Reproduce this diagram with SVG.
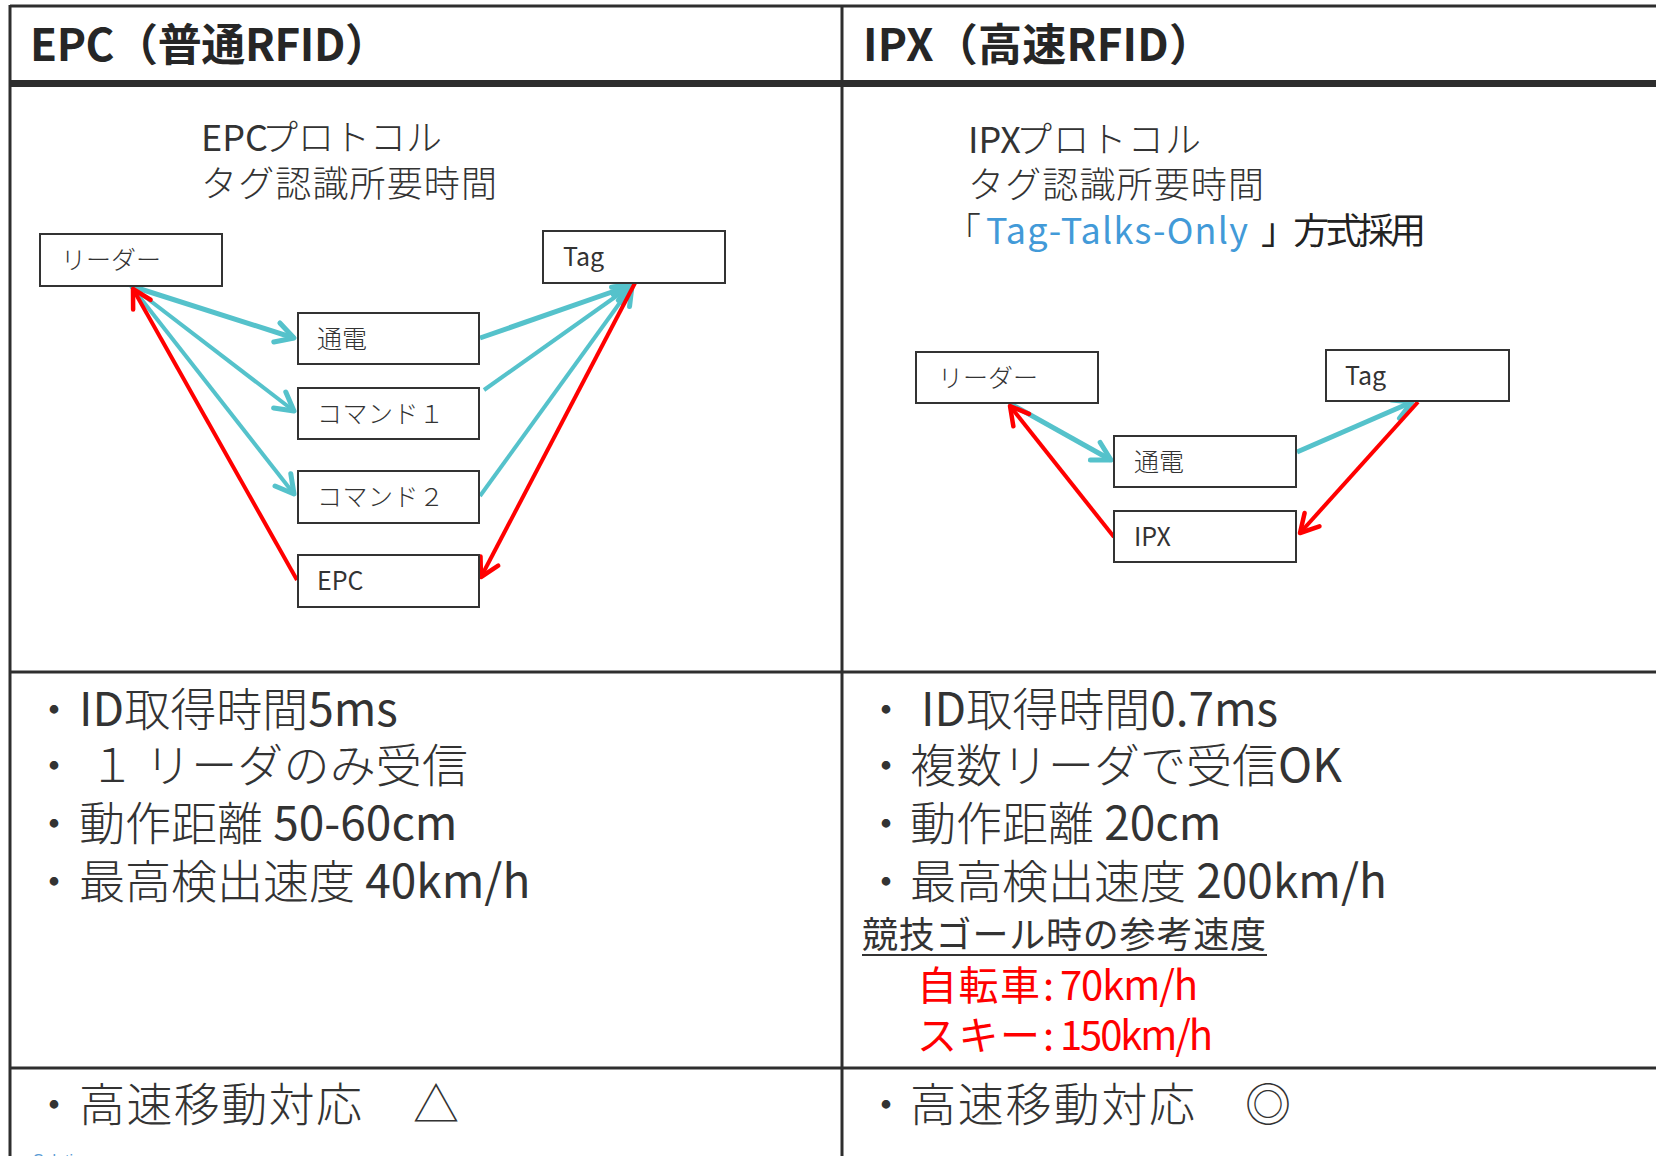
<svg xmlns="http://www.w3.org/2000/svg" width="1656" height="1156" viewBox="0 0 1656 1156">
<style>
.grid{stroke:#2e2e2e;stroke-width:3;fill:none}
.hdr{font-family:"Noto Sans CJK JP","Noto Sans",sans-serif;font-weight:bold;font-size:44px;fill:#262626}
.sub{font-family:"Noto Sans CJK JP","Noto Sans",sans-serif;font-size:36px;fill:#333;font-weight:300}
.box{fill:#fff;stroke:#333;stroke-width:2}
.lbl{font-family:"Noto Sans CJK JP","Noto Sans",sans-serif;font-size:25px;fill:#333;font-weight:300}
.body{font-family:"Noto Sans CJK JP","Noto Sans",sans-serif;font-size:46px;fill:#333;font-weight:300}
.lat{font-weight:400}
.mid{font-family:"Noto Sans CJK JP","Noto Sans",sans-serif;font-size:36px;fill:#333}
.red{font-family:"Noto Sans CJK JP","Noto Sans",sans-serif;font-size:40px;fill:#ff0000}
.cy{stroke:#55c2cb;fill:none;stroke-width:5}
.cy4{stroke:#55c2cb;fill:none;stroke-width:4}
.rd{stroke:#ff0000;fill:none;stroke-width:4}
</style>
<defs>
<marker id="mc" viewBox="-22 -14 26 28" markerWidth="26" markerHeight="28" refX="0" refY="0" orient="auto" markerUnits="userSpaceOnUse">
<path d="M-18,-10 L0,0 L-18,10" fill="none" stroke="#55c2cb" stroke-width="5" stroke-linecap="round" stroke-linejoin="round"/>
</marker>
<marker id="mr" viewBox="-22 -14 26 28" markerWidth="26" markerHeight="28" refX="0" refY="0" orient="auto" markerUnits="userSpaceOnUse">
<path d="M-18,-10 L0,0 L-18,10" fill="none" stroke="#ff0000" stroke-width="4.5" stroke-linecap="round" stroke-linejoin="round"/>
</marker>
</defs>
<rect width="1656" height="1156" fill="#fff"/>
<g id="table">
<line class="grid" x1="10" y1="6" x2="1656" y2="6"/>
<line class="grid" x1="10" y1="5" x2="10" y2="1156"/>
<line class="grid" x1="842" y1="5" x2="842" y2="1156"/>
<rect x="10" y="80" width="1646" height="7" fill="#2e2e2e"/>
<line class="grid" x1="10" y1="672" x2="1656" y2="672"/>
<line class="grid" x1="10" y1="1068" x2="1656" y2="1068"/>
</g>
<g id="headers">
<text class="hdr" x="30" y="61" textLength="359" lengthAdjust="spacing">EPC（普通RFID）</text>
<text class="hdr" x="863" y="61" textLength="350" lengthAdjust="spacing">IPX（高速RFID）</text>
</g>
<g id="epc-title">
<text class="sub" x="201" y="151"><tspan class="lat">EPC</tspan><tspan x="262" textLength="180" lengthAdjust="spacing">プロトコル</tspan></text>
<text class="sub" x="201" y="197" textLength="296" lengthAdjust="spacing">タグ認識所要時間</text>
</g>
<g id="ipx-title">
<text class="sub" x="968" y="153"><tspan class="lat">IPX</tspan><tspan x="1016" textLength="185" lengthAdjust="spacing">プロトコル</tspan></text>
<text class="sub" x="968" y="198" textLength="296" lengthAdjust="spacing">タグ認識所要時間</text>
<text class="sub" y="244"><tspan x="945">「</tspan><tspan x="986" class="lat" fill="#429ad8" textLength="262" lengthAdjust="spacing">Tag-Talks-Only</tspan><tspan x="1261" class="lat" fill="#222" textLength="165" lengthAdjust="spacing">」方式採用</tspan></text>
</g>
<g id="connectors">
<line class="cy" x1="131" y1="286" x2="294" y2="338" marker-end="url(#mc)"/>
<line class="cy4" x1="131" y1="286" x2="294" y2="411" marker-end="url(#mc)"/>
<line class="cy4" x1="131" y1="286" x2="294" y2="494" marker-end="url(#mc)"/>
<line class="cy" x1="480" y1="338" x2="632" y2="285" marker-end="url(#mc)"/>
<line class="cy4" x1="484" y1="390" x2="632" y2="285" marker-end="url(#mc)"/>
<line class="cy4" x1="480" y1="496" x2="632" y2="286" marker-end="url(#mc)"/>
<line class="rd" x1="635" y1="283" x2="481" y2="577" marker-end="url(#mr)"/>
<line class="rd" x1="297" y1="580" x2="133" y2="289" marker-end="url(#mr)"/>
<line class="cy" x1="1009" y1="403" x2="1111" y2="460" marker-end="url(#mc)"/>
<line class="cy" x1="1297" y1="452" x2="1412" y2="402" marker-end="url(#mc)"/>
<line class="rd" x1="1418" y1="402" x2="1300" y2="533" marker-end="url(#mr)"/>
<line class="rd" x1="1114" y1="537" x2="1010" y2="406" marker-end="url(#mr)"/>
</g>
<g id="epc-reader"><rect class="box" x="40" y="234" width="182" height="52"/><text class="lbl" x="61" y="269">リーダー</text></g>
<g id="epc-tag"><rect class="box" x="543" y="231" width="182" height="52"/><text class="lbl lat" x="563" y="266">Tag</text></g>
<g id="epc-power"><rect class="box" x="298" y="313" width="181" height="51"/><text class="lbl" x="317" y="348">通電</text></g>
<g id="epc-cmd1"><rect class="box" x="298" y="388" width="181" height="51"/><text class="lbl" x="317" y="423" textLength="127" lengthAdjust="spacing">コマンド１</text></g>
<g id="epc-cmd2"><rect class="box" x="298" y="471" width="181" height="52"/><text class="lbl" x="317" y="506" textLength="127" lengthAdjust="spacing">コマンド２</text></g>
<g id="epc-epc"><rect class="box" x="298" y="555" width="181" height="52"/><text class="lbl lat" x="317" y="590">EPC</text></g>
<g id="ipx-reader"><rect class="box" x="916" y="352" width="182" height="51"/><text class="lbl" x="938" y="387">リーダー</text></g>
<g id="ipx-tag"><rect class="box" x="1326" y="350" width="183" height="51"/><text class="lbl lat" x="1345" y="385">Tag</text></g>
<g id="ipx-power"><rect class="box" x="1114" y="436" width="182" height="51"/><text class="lbl" x="1134" y="471">通電</text></g>
<g id="ipx-ipx"><rect class="box" x="1114" y="511" width="182" height="51"/><text class="lbl lat" x="1134" y="546">IPX</text></g>
<g id="epc-specs">
<text class="body" x="31" y="726">・<tspan x="79" class="lat">ID</tspan>取得時間<tspan class="lat">5ms</tspan></text>
<text class="body" x="31" y="782">・<tspan x="89">１</tspan><tspan x="145" textLength="323" lengthAdjust="spacing">リーダのみ受信</tspan></text>
<text class="body" x="31" y="840">・<tspan x="79">動作距離</tspan><tspan class="lat"> 50-60cm</tspan></text>
<text class="body" x="31" y="898">・<tspan x="79">最高検出速度</tspan><tspan class="lat"> 40km/h</tspan></text>
</g>
<g id="ipx-specs">
<text class="body" x="863" y="726">・<tspan x="921" class="lat">ID</tspan>取得時間<tspan class="lat">0.7ms</tspan></text>
<text class="body" x="863" y="782">・<tspan x="910">複数リーダで受信</tspan><tspan class="lat">OK</tspan></text>
<text class="body" x="863" y="840">・<tspan x="910">動作距離</tspan><tspan class="lat"> 20cm</tspan></text>
<text class="body" x="863" y="898">・<tspan x="910">最高検出速度</tspan><tspan class="lat"> 200km/h</tspan></text>
<text class="mid" x="862" y="948" textLength="404" lengthAdjust="spacing">競技ゴール時の参考速度</text>
<line x1="862" y1="955" x2="1267" y2="955" stroke="#333" stroke-width="2"/>
<text class="red" y="1000"><tspan x="917" textLength="123" lengthAdjust="spacing">自転車</tspan><tspan x="1043">:</tspan><tspan x="1060" textLength="138" lengthAdjust="spacing">70km/h</tspan></text>
<text class="red" y="1050"><tspan x="917" textLength="123" lengthAdjust="spacing">スキー</tspan><tspan x="1043">:</tspan><tspan x="1060" textLength="153" lengthAdjust="spacing">150km/h</tspan></text>
</g>
<g id="highspeed">
<text class="body" x="31" y="1121">・<tspan x="79" textLength="283" lengthAdjust="spacing">高速移動対応</tspan><tspan x="413">△</tspan></text>
<text class="body" x="863" y="1121">・<tspan x="910" textLength="285" lengthAdjust="spacing">高速移動対応</tspan><tspan x="1245">◎</tspan></text>
</g>
<text x="33" y="1166" font-family="'Liberation Sans',sans-serif" font-size="16" fill="#5b9bd5">Solution</text>
</svg>
